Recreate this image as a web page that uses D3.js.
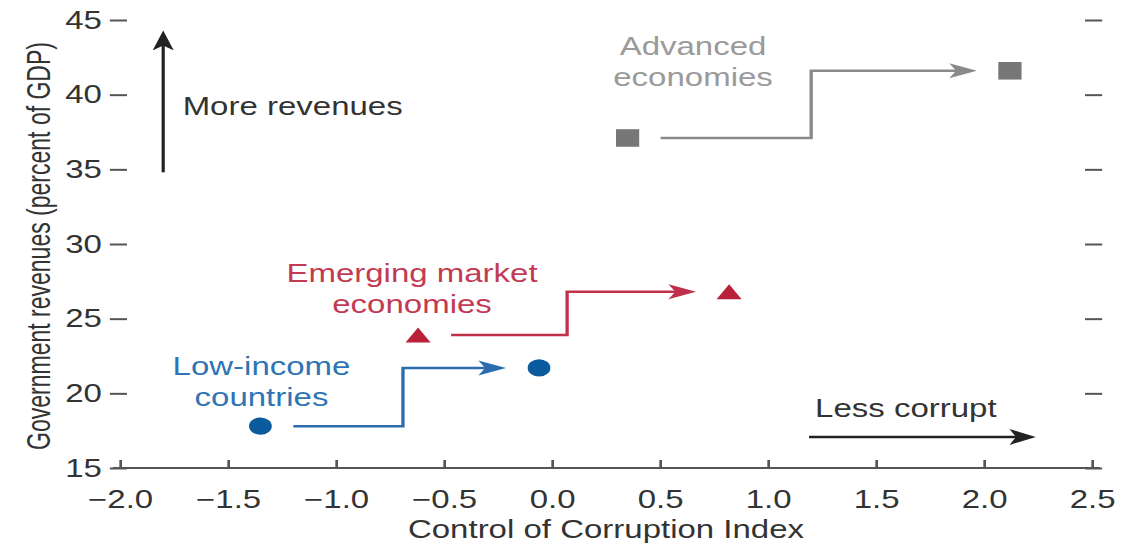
<!DOCTYPE html>
<html>
<head>
<meta charset="utf-8">
<script src="https://cdn.jsdelivr.net/npm/d3@7"></script>
<style>
  body { margin: 0; background: #fff; }
  text { font-family: "Liberation Sans", Arial, sans-serif; }
</style>
</head>
<body>
<script>
// groups and their before/after positions (control of corruption, revenue % GDP)
const groups = ["Low-income countries", "Emerging market economies", "Advanced economies"];
const labelLines = [["Low-income", "countries"], ["Emerging market", "economies"], ["Advanced", "economies"]];
const corruptionBefore = [-1.35, -0.62, 0.35];
const corruptionAfter = [-0.06, 0.82, 2.12];
const revenueBefore = [17.8, 23.9, 37.1];
const revenueAfter = [21.7, 26.8, 41.6];
const elbowX = [-0.69, 0.07, 1.2];
const labelX = [-1.345, -0.648, 0.653];
const labelY = [21.23, 27.46, 42.66];
const xTicks = [-2.0, -1.5, -1.0, -0.5, 0.0, 0.5, 1.0, 1.5, 2.0, 2.5];
const yTicks = [15, 20, 25, 30, 35, 40, 45];
// annotation arrows
const moreArrowX = -1.8, moreArrowY = [34.8, 44.3];
const moreLabel = { text: "More revenues", x: -1.71, y: 38.64 };
const lessArrowY = 17.08, lessArrowX = [1.19, 2.24];
const lessLabel = { text: "Less corrupt", x: 1.218, y: 18.42 };

// styles
const shapes = ["circle", "triangle", "square"];
const markColor = ["#0c5a9e", "#b9213a", "#777777"];
const lineColor = ["#2a6cae", "#c0304a", "#8a8a8a"];
const textColor = ["#2f74b4", "#c23b53", "#9a9a9a"];

const W = 1134, H = 548;
const S = 1.32; // the whole figure is stretched horizontally
const FS = 25;

const x = d3.scaleLinear().domain([-2, 2.5]).range([120 / S, 1092 / S]);
const y = d3.scaleLinear().domain([15, 45]).range([468, 20]);

const svg = d3.select("body").append("svg")
	.attr("width", W)
	.attr("height", H);

const defs = svg.append("defs");
function addMarker(id, color, len, half) {
	defs.append("marker")
		.attr("id", id)
		.attr("markerUnits", "userSpaceOnUse")
		.attr("viewBox", `0 ${-half - 1} ${len + 2} ${2 * half + 2}`)
		.attr("markerWidth", len + 2)
		.attr("markerHeight", 2 * half + 2)
		.attr("refX", len - 10)
		.attr("refY", 0)
		.attr("orient", "auto")
		.append("path")
		.attr("d", `M0,${-half}L${len},0L0,${half}L${len * 0.25},0Z`)
		.attr("fill", color);
}
lineColor.forEach((c, i) => addMarker("arr" + i, c, 21, 7.5));
addMarker("arrK", "#222", 20, 8);

const g = svg.append("g").attr("transform", `scale(${S},1)`);

// x axis
const x0 = x.range()[0], x1 = x.range()[1];
g.append("line")
	.attr("x1", x0 - 5.3).attr("x2", x1 + 6)
	.attr("y1", y(15)).attr("y2", y(15))
	.attr("stroke", "#555").attr("stroke-width", 2);

const xAxis = g.append("g")
	.attr("transform", `translate(0,${y(15)})`)
	.call(d3.axisBottom(x).tickValues(xTicks).tickFormat(d3.format(".1f"))
		.tickSizeInner(-8).tickSizeOuter(0).tickPadding(22));
xAxis.select(".domain").remove();
xAxis.selectAll("line").attr("stroke", "#555").attr("stroke-width", 2);
xAxis.selectAll("text").attr("font-size", FS).attr("fill", "#333")
	.attr("font-family", "'Liberation Sans', Arial, sans-serif");

// y axis left (ticks + labels)
const yAxis = g.append("g")
	.attr("transform", `translate(${x0 + 5.3},0)`)
	.call(d3.axisLeft(y).tickValues(yTicks).tickSize(13).tickPadding(6));
yAxis.select(".domain").remove();
yAxis.selectAll("line").attr("stroke", "#555").attr("stroke-width", 2);
yAxis.selectAll("text").attr("font-size", FS).attr("fill", "#333")
	.attr("font-family", "'Liberation Sans', Arial, sans-serif");

// y axis right (ticks only)
const yAxisR = g.append("g")
	.attr("transform", `translate(${x1 - 5.3},0)`)
	.call(d3.axisRight(y).tickValues(yTicks).tickSize(13).tickFormat(""));
yAxisR.select(".domain").remove();
yAxisR.selectAll("line").attr("stroke", "#555").attr("stroke-width", 2);

// axis titles
g.append("text")
	.attr("x", (x0 + x1) / 2).attr("y", 538)
	.attr("text-anchor", "middle")
	.attr("font-size", FS).attr("fill", "#333")
	.text("Control of Corruption Index");

g.append("text")
	.attr("transform", `translate(${50 / S},${(y(15) + y(45)) / 2 + 2}) rotate(-90)`)
	.attr("text-anchor", "middle")
	.attr("font-size", FS).attr("fill", "#333")
	.attr("textLength", 408).attr("lengthAdjust", "spacingAndGlyphs")
	.text("Government revenues (percent of GDP)");

// connectors
const gap = 25;
groups.forEach(function(name, i) {
	const xs = x(corruptionBefore[i]) + gap;
	const xe = x(corruptionAfter[i]) - gap - 10;
	g.append("path")
		.attr("d", `M${xs},${y(revenueBefore[i])}H${x(elbowX[i])}V${y(revenueAfter[i])}H${xe}`)
		.attr("fill", "none")
		.attr("stroke", lineColor[i])
		.attr("stroke-width", 2.5)
		.attr("marker-end", `url(#arr${i})`);
});

// markers
function shapePath(type) {
	if (type === "circle") return "M-8.6,0A8.6,8.6 0 1,0 8.6,0A8.6,8.6 0 1,0 -8.6,0Z";
	if (type === "triangle") return "M0,-7.5L9.5,7.5L-9.5,7.5Z";
	return "M-8.8,-8.8H8.8V8.8H-8.8Z";
}
groups.forEach(function(name, i) {
	[[corruptionBefore[i], revenueBefore[i]], [corruptionAfter[i], revenueAfter[i]]].forEach(function(p) {
		g.append("path")
			.attr("transform", `translate(${x(p[0])},${y(p[1])})`)
			.attr("d", shapePath(shapes[i]))
			.attr("fill", markColor[i]);
	});
	const t = g.append("text")
		.attr("text-anchor", "middle")
		.attr("font-size", FS)
		.attr("fill", textColor[i]);
	labelLines[i].forEach(function(line, k) {
		t.append("tspan")
			.attr("x", x(labelX[i]))
			.attr("y", y(labelY[i]) + k * 31)
			.text(line);
	});
});

// annotation arrows
g.append("line")
	.attr("x1", x(moreArrowX)).attr("x2", x(moreArrowX))
	.attr("y1", y(moreArrowY[0])).attr("y2", y(moreArrowY[1]) + 10)
	.attr("stroke", "#222").attr("stroke-width", 2.4)
	.attr("marker-end", "url(#arrK)");
g.append("text")
	.attr("x", x(moreLabel.x)).attr("y", y(moreLabel.y))
	.attr("font-size", FS).attr("fill", "#333")
	.text(moreLabel.text);

g.append("line")
	.attr("x1", x(lessArrowX[0])).attr("x2", x(lessArrowX[1]) - 10)
	.attr("y1", y(lessArrowY)).attr("y2", y(lessArrowY))
	.attr("stroke", "#222").attr("stroke-width", 2.4)
	.attr("marker-end", "url(#arrK)");
g.append("text")
	.attr("x", x(lessLabel.x)).attr("y", y(lessLabel.y))
	.attr("font-size", FS).attr("fill", "#333")
	.text(lessLabel.text);
</script>
</body>
</html>
